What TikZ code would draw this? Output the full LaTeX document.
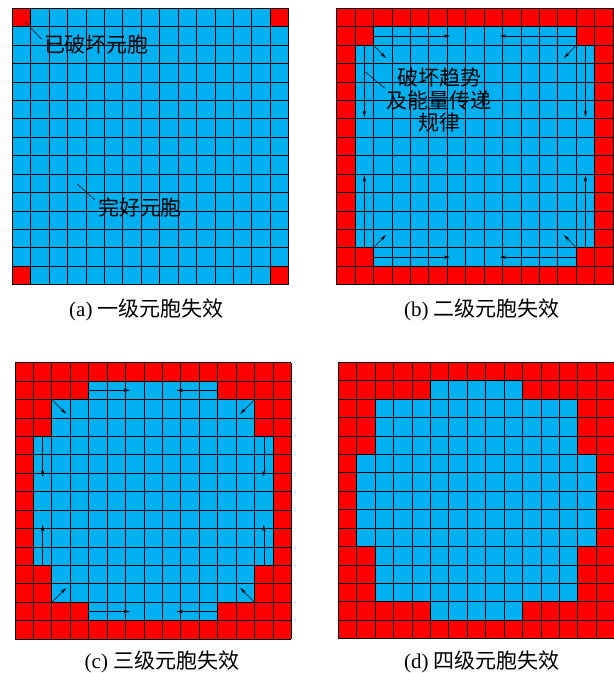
\documentclass[tikz,border=0pt]{standalone}
\usepackage{fontspec}
\setmainfont{Liberation Serif}
\newfontfamily\cjk{Noto Sans CJK SC}
\usetikzlibrary{arrows.meta}
\definecolor{cellblue}{RGB}{0,176,240}
\definecolor{cellred}{RGB}{255,0,0}
\tikzset{
  gridline/.style={black, line width=0.9pt},
  flow/.style={black, line width=0.5pt, -{Stealth[length=6.5pt,width=3.2pt]}},
  leader/.style={black, line width=0.5pt},
  lbl/.style={font=\fontsize{21}{22.5}\selectfont\cjk, inner sep=0pt, align=center},
  captext/.style={font=\fontsize{21}{24}\selectfont, inner sep=0pt, anchor=base},
  cellunits/.style={x=18.43pt, y=-18.43pt},
}
\newcommand\gridlines{%
  \foreach \i in {0,...,15} {
    \draw[gridline] (\i,0) -- (\i,15);
    \draw[gridline] (0,\i) -- (15,\i);
  }%
}
\newcommand\redframe{%
  \fill[cellred] (0,0) rectangle (15,1);
  \fill[cellred] (0,14) rectangle (15,15);
  \fill[cellred] (0,0) rectangle (1,15);
  \fill[cellred] (14,0) rectangle (15,15);
}
\begin{document}
\begin{tikzpicture}[x=1pt, y=-1pt]
\useasboundingbox (0,0) rectangle (614,673);

% ---------------- (a) ----------------
\begin{scope}[shift={(12.3,8.3)}, cellunits]
  \fill[cellblue] (0,0) rectangle (15,15);
  \fill[cellred] (0,0) rectangle (1,1);
  \fill[cellred] (14,0) rectangle (15,1);
  \fill[cellred] (0,14) rectangle (1,15);
  \fill[cellred] (14,14) rectangle (15,15);
  \gridlines
\end{scope}
\node[lbl] (la) at (96.5,45) {已破坏元胞};
\coordinate (la1) at (25,21.7);
\coordinate (la2) at (41.7,39.3);
\draw[leader] (la1) -- (la2);
\node[lbl] (lb) at (140,207) {完好元胞};
\coordinate (lb1) at (77.3,184);
\coordinate (lb2) at (95,200);
\draw[leader] (lb1) -- (lb2);
\node[captext] (capa) at (146.5,316) {(a) {\cjk 一级元胞失效}};

% ---------------- (b) ----------------
\begin{scope}[shift={(336.7,8.3)}, cellunits]
  \fill[cellblue] (0,0) rectangle (15,15);
  \redframe
  \fill[cellred] (1,1) rectangle (2,2);
  \fill[cellred] (13,1) rectangle (14,2);
  \fill[cellred] (1,13) rectangle (2,14);
  \fill[cellred] (13,13) rectangle (14,14);
  \gridlines
  \coordinate (b1s) at (2,1.5);   \coordinate (b1e) at (6.15,1.5);
  \coordinate (b2s) at (13,1.5);  \coordinate (b2e) at (8.85,1.5);
  \coordinate (b3s) at (2,13.5);  \coordinate (b3e) at (6.15,13.5);
  \coordinate (b4s) at (13,13.5); \coordinate (b4e) at (8.85,13.5);
  \coordinate (b5s) at (1.5,2);   \coordinate (b5e) at (1.5,5.9);
  \coordinate (b6s) at (1.5,13);  \coordinate (b6e) at (1.5,9.05);
  \coordinate (b7s) at (13.5,2);  \coordinate (b7e) at (13.5,5.9);
  \coordinate (b8s) at (13.5,13); \coordinate (b8e) at (13.5,9.05);
  \coordinate (b9s) at (2,2);     \coordinate (b9e) at (2.67,2.7);
  \coordinate (b10s) at (13,2);   \coordinate (b10e) at (12.33,2.7);
  \coordinate (b11s) at (2,13);   \coordinate (b11e) at (2.67,12.3);
  \coordinate (b12s) at (13,13);  \coordinate (b12e) at (12.33,12.3);
  \foreach \k in {1,...,12} { \draw[flow] (b\k s) -- (b\k e); }
\end{scope}
\node[lbl] (lc) at (439,100.5) {破坏趋势\\及能量传递\\规律};
\coordinate (lc1) at (365,71.7);
\coordinate (lc2) at (385,88.3);
\draw[leader] (lc1) -- (lc2);
\node[captext] (capb) at (482,316) {(b) {\cjk 二级元胞失效}};

% ---------------- (c) ----------------
\begin{scope}[shift={(15,362.7)}, cellunits]
  \fill[cellblue] (0,0) rectangle (15,15);
  \redframe
  \fill[cellred] (1,1) rectangle (4,2);
  \fill[cellred] (11,1) rectangle (14,2);
  \fill[cellred] (1,2) rectangle (2,4);
  \fill[cellred] (13,2) rectangle (14,4);
  \fill[cellred] (1,13) rectangle (4,14);
  \fill[cellred] (11,13) rectangle (14,14);
  \fill[cellred] (1,11) rectangle (2,13);
  \fill[cellred] (13,11) rectangle (14,13);
  \gridlines
  \coordinate (c1s) at (4,1.5);    \coordinate (c1e) at (6.24,1.5);
  \coordinate (c2s) at (11,1.5);   \coordinate (c2e) at (8.76,1.5);
  \coordinate (c3s) at (4,13.5);   \coordinate (c3e) at (6.24,13.5);
  \coordinate (c4s) at (11,13.5);  \coordinate (c4e) at (8.76,13.5);
  \coordinate (c5s) at (1.5,4);    \coordinate (c5e) at (1.5,6.2);
  \coordinate (c6s) at (1.5,11);   \coordinate (c6e) at (1.5,8.8);
  \coordinate (c7s) at (13.5,4);   \coordinate (c7e) at (13.5,6.2);
  \coordinate (c8s) at (13.5,11);  \coordinate (c8e) at (13.5,8.8);
  \coordinate (c9s) at (2,2);      \coordinate (c9e) at (2.78,2.78);
  \coordinate (c10s) at (13,2);    \coordinate (c10e) at (12.22,2.78);
  \coordinate (c11s) at (2,13);    \coordinate (c11e) at (2.78,12.22);
  \coordinate (c12s) at (13,13);   \coordinate (c12e) at (12.22,12.22);
  \foreach \k in {1,...,12} { \draw[flow] (c\k s) -- (c\k e); }
\end{scope}
\node[captext] (capc) at (162,668) {(c) {\cjk 三级元胞失效}};

% ---------------- (d) ----------------
\begin{scope}[shift={(338.3,362.3)}, cellunits]
  \fill[cellblue] (0,0) rectangle (15,15);
  \redframe
  \fill[cellred] (1,1) rectangle (5,2);
  \fill[cellred] (10,1) rectangle (14,2);
  \fill[cellred] (1,2) rectangle (2,5);
  \fill[cellred] (13,2) rectangle (14,5);
  \fill[cellred] (1,10) rectangle (2,13);
  \fill[cellred] (13,10) rectangle (14,13);
  \fill[cellred] (1,13) rectangle (5,14);
  \fill[cellred] (10,13) rectangle (14,14);
  \gridlines
\end{scope}
\node[captext] (capd) at (482,668) {(d) {\cjk 四级元胞失效}};
\end{tikzpicture}
\end{document}
